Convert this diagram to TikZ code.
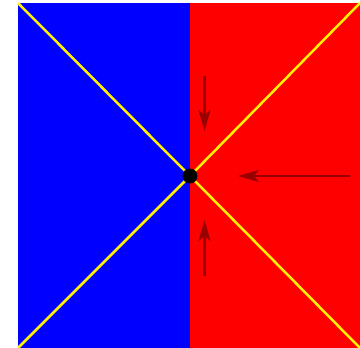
\documentclass[tikz,border=0pt]{standalone}
\usetikzlibrary{arrows.meta}
\begin{document}
\begin{tikzpicture}[x=1pt,y=-1pt,
  diag/.style={yellow,line width=2.5pt},
  flowarrow/.style={draw=red!60!black,line width=2.6pt,-{Stealth[length=21pt,width=12pt,inset=5pt]}}]
\useasboundingbox (0,0) rectangle (360,348);
\fill[blue] (18,3) rectangle (190,348);
\fill[red] (190,3) rectangle (360,348);
\coordinate (tl) at (18,3);
\coordinate (bl) at (18,348);
\coordinate (tr) at (360,3);
\coordinate (br) at (360,348);
\coordinate (c) at (190,176);
\draw[diag] (tl) -- (c) -- (br);
\draw[diag] (bl) -- (c) -- (tr);
\node[circle,fill=black,inner sep=0pt,minimum size=15pt] (dot) at (c) {};
\coordinate (a1s) at (204.5,76);
\coordinate (a1e) at (204.5,131);
\coordinate (a2s) at (204.5,276);
\coordinate (a2e) at (204.5,220);
\coordinate (a3s) at (350,176);
\coordinate (a3e) at (238,176);
\draw[flowarrow] (a1s) -- (a1e);
\draw[flowarrow] (a2s) -- (a2e);
\draw[flowarrow] (a3s) -- (a3e);
\end{tikzpicture}
\end{document}
